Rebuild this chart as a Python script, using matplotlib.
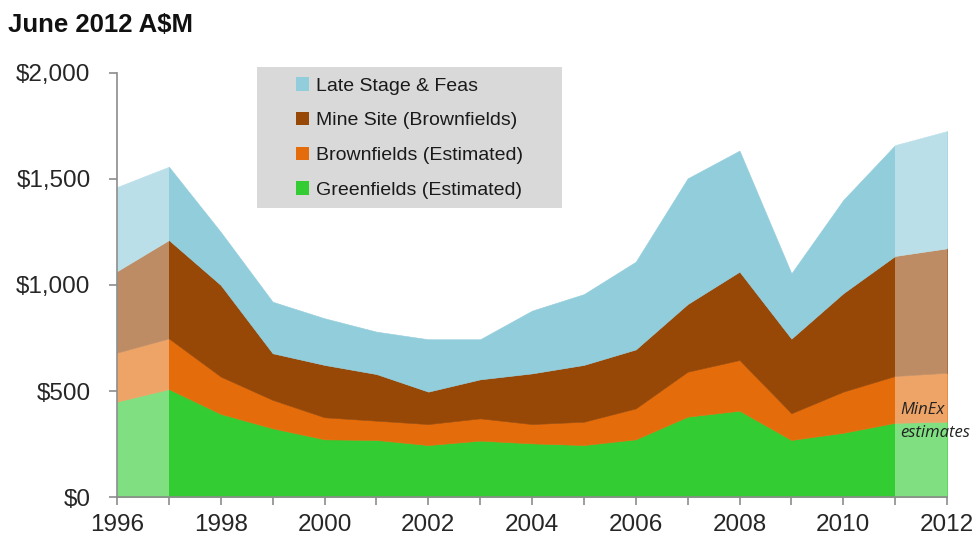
import matplotlib
matplotlib.use("Agg")
import matplotlib.pyplot as plt
from matplotlib.patches import Rectangle, Patch
import numpy as np

years = list(range(1996, 2013))
greenfields = [450, 509, 392, 324, 272, 269, 245, 266, 253, 245, 272, 379, 407, 269, 303, 350, 355]
brownfields_est = [231, 239, 176, 134, 104, 91, 99, 105, 91, 110, 146, 212, 239, 126, 194, 221, 231]
mine_site = [384, 464, 432, 220, 247, 220, 153, 184, 239, 268, 278, 319, 417, 352, 464, 566, 587]
late_stage = [397, 346, 250, 243, 220, 200, 247, 189, 296, 334, 414, 593, 571, 308, 440, 523, 553]

labels = ["Greenfields (Estimated)", "Brownfields (Estimated)",
          "Mine Site (Brownfields)", "Late Stage & Feas"]
colors = ["#33CC33", "#E46C0A", "#974706", "#92CDDC"]
estimate_spans = [(1996, 1997), (2011, 2012)]
y_ticks = [0, 500, 1000, 1500, 2000]

plt.rcParams['font.family'] = ['Liberation Sans', 'DejaVu Sans']

W, H = 980, 541
fig = plt.figure(figsize=(W / 100, H / 100), dpi=100)
ax = fig.add_axes([117 / W, (H - 497) / H, (947 - 117) / W, (497 - 73) / H])

ax.stackplot(years, greenfields, brownfields_est, mine_site, late_stage,
             colors=colors, linewidth=0.4, edgecolor='face')
for a, b in estimate_spans:
    ax.axvspan(a, b, color='white', alpha=0.38, lw=0, zorder=2)

ax.set_xlim(1996, 2012)
ax.set_ylim(0, 2000)
ax.set_yticks(y_ticks)
ax.set_yticklabels([f"${v:,}" for v in y_ticks])
ax.set_xticks(years)
ax.set_xticklabels([str(y) if y % 2 == 0 else "" for y in years])

for s in ['top', 'right']:
    ax.spines[s].set_visible(False)
for s in ['left', 'bottom']:
    ax.spines[s].set_color('#8c8c8c')
    ax.spines[s].set_linewidth(1.2)
ax.tick_params(axis='both', colors='#8c8c8c', labelcolor='#262626',
               labelsize=17.5, length=6, width=1.2, direction='out')
ax.tick_params(axis='y', pad=13)
ax.tick_params(axis='x', pad=6)

fig.text(8 / W, 1 - 25 / H, "June 2012 A$M", fontsize=18.5, fontweight='bold',
         color='#111111', ha='left', va='center')

# legend box
fig.patches.append(Rectangle((257 / W, 1 - 208 / H), (562 - 257) / W, (208 - 67) / H,
                             transform=fig.transFigure, facecolor='#D9D9D9',
                             edgecolor='none', zorder=5))
handles = [Patch(facecolor=colors[i], edgecolor='none') for i in [3, 2, 1, 0]]
leg = fig.legend(handles, [labels[i] for i in [3, 2, 1, 0]], loc='center',
                 bbox_to_anchor=(409.5 / W, 1 - 138 / H), frameon=False,
                 fontsize=14, handlelength=0.68, handleheight=0.68,
                 handletextpad=0.35, labelspacing=0.88, borderpad=0)
leg.set_zorder(6)
for t in leg.get_texts():
    t.set_color('#1a1a1a')

ax.text(2011.1, (497 - 410) / 424 * 2000, "MinEx", fontsize=12,
        style='italic', family=['Open Sans', 'DejaVu Sans'], color='#222222',
        ha='left', va='center', zorder=7)
ax.text(2011.1, (497 - 433) / 424 * 2000, "estimates", fontsize=12,
        style='italic', family=['Open Sans', 'DejaVu Sans'], color='#222222',
        ha='left', va='center', zorder=7, clip_on=False)

fig.savefig("out.png", dpi=100)
